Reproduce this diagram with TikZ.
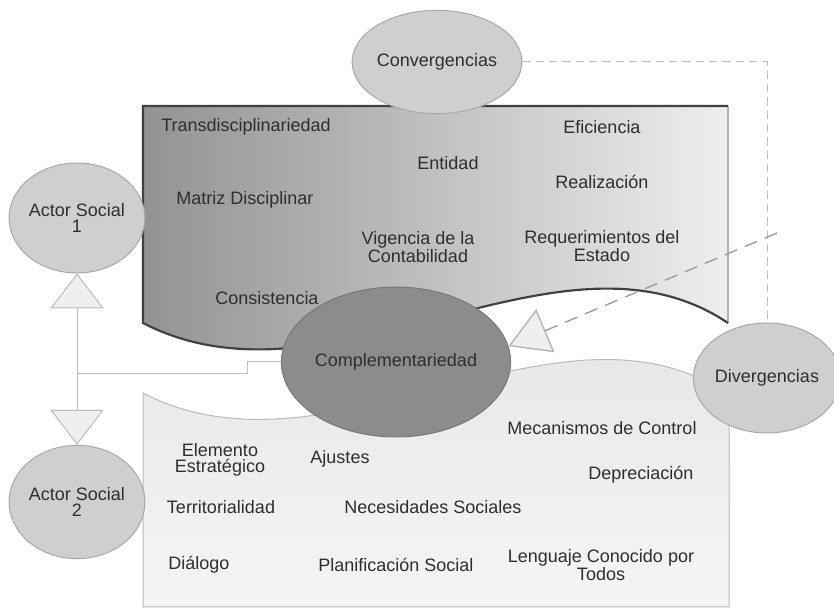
\documentclass[tikz,border=0pt]{standalone}
\usepackage{fontspec}
\setmainfont{Liberation Sans}
\usetikzlibrary{shapes.geometric,arrows.meta}

\definecolor{txtgray}{HTML}{2E2E2E}
\definecolor{bubblefill}{HTML}{CFCFCF}
\definecolor{bubbleline}{HTML}{A8A8A8}
\definecolor{corefill}{HTML}{8C8C8C}
\definecolor{coreline}{HTML}{777777}
\definecolor{upleft}{HTML}{939393}
\definecolor{upmid}{HTML}{C9C9C9}
\definecolor{upright}{HTML}{EEEEEE}
\definecolor{lowtop}{HTML}{E4E4E4}
\definecolor{lowbottom}{HTML}{F5F5F5}
\definecolor{linkgray}{HTML}{BDBDBD}
\definecolor{trifill}{HTML}{EFEFEF}

\begin{document}
\begin{tikzpicture}[x=0.6pt, y=-0.6pt,
	lbl/.style={text=txtgray, font=\fontsize{10.8}{10}\selectfont, align=center, inner sep=0pt},
	bubble/.style={lbl, ellipse, draw=bubbleline, fill=bubblefill, line width=0.6pt},
	core/.style={lbl, ellipse, draw=coreline, fill=corefill, line width=0.6pt},
	link/.style={draw=linkgray, line width=0.6pt},
	dashlink/.style={draw=gray!80, line width=0.8pt, dash pattern=on 8pt off 5pt},
	thindash/.style={draw=linkgray, line width=0.6pt, dash pattern=on 5pt off 3pt}]
	\useasboundingbox (0,0) rectangle (834,611);
	% banners
	\shade[left color=upleft, middle color=upmid, right color=upright] (143,106) -- (728,106) -- (728,323)
		.. controls (560,210) and (330,420) .. (143,323) -- cycle;
	\draw[gray!60, line width=0.8pt] (728,106) -- (728,323);
	\draw[black!75, line width=1.3pt] (728,323) .. controls (560,210) and (330,420) .. (143,323)
		-- (143,106) -- (728,106);
	\shade[top color=lowtop, bottom color=lowbottom, draw=gray!55, line width=0.6pt]
		(143,393) .. controls (330,490) and (560,280) .. (729,395) -- (729,607) -- (143,607) -- cycle;

	\node[lbl] (trans) at (246,127) {Transdisciplinariedad};
	\node[lbl] (matriz) at (245,200) {Matriz Disciplinar};
	\node[lbl] (consist) at (267,298) {Consistencia};
	\node[lbl] (entidad) at (448,163) {Entidad};
	\node[lbl] (vigencia) at (418,247) {Vigencia de la\\Contabilidad};
	\node[lbl] (efic) at (602,127) {Eficiencia};
	\node[lbl] (realiz) at (602,182) {Realización};
	\node[lbl] (requer) at (602,246) {Requerimientos del\\Estado};

	\node[lbl] (mecan) at (602,428) {Mecanismos de Control};
	\node[lbl] (deprec) at (641,475) {Depreciación};
	\node[lbl] (elemento) at (220,460) {Elemento\\Estratégico};
	\node[lbl] (ajustes) at (340,459) {Ajustes};
	\node[lbl] (territ) at (221,507) {Territorialidad};
	\node[lbl] (necesid) at (433,507) {Necesidades Sociales};
	\node[lbl] (dialogo) at (199,565) {Diálogo};
	\node[lbl] (planif) at (396,565) {Planificación Social};
	\node[lbl] (lenguaje) at (601,565) {Lenguaje Conocido por\\Todos};

	% bubbles
	\node[bubble, minimum width=80pt, minimum height=66pt] (actor1) at (77,218) {Actor Social\\1};
	\node[bubble, minimum width=78pt, minimum height=68pt] (actor2) at (77,502) {Actor Social\\2};
	\node[bubble, minimum width=81pt, minimum height=62pt] (conv) at (437,62) {Convergencias};
	\node[bubble, minimum width=80pt, minimum height=66pt] (div) at (767,378) {Divergencias};
	\node[core, minimum width=106pt, minimum height=90pt] (comp) at (396,362) {Complementariedad};

	% connectors
	\coordinate (jn) at (77,374);
	\coordinate (src) at (777,233);
	\draw[link, {Triangle[length=21pt, width=32pt, fill=trifill]}-{Triangle[length=21pt, width=32pt, fill=trifill]}]
		(actor1) -- (actor2);
	\draw[link] (comp.west) -- ++(-33,0) |- (jn);
	\draw[thindash] (conv.east) -| (div.north);
	\draw[dashlink, -{Triangle[length=24pt, width=28pt, fill=trifill, color=gray!60]}] (src) -- (comp.8);
\end{tikzpicture}
\end{document}
